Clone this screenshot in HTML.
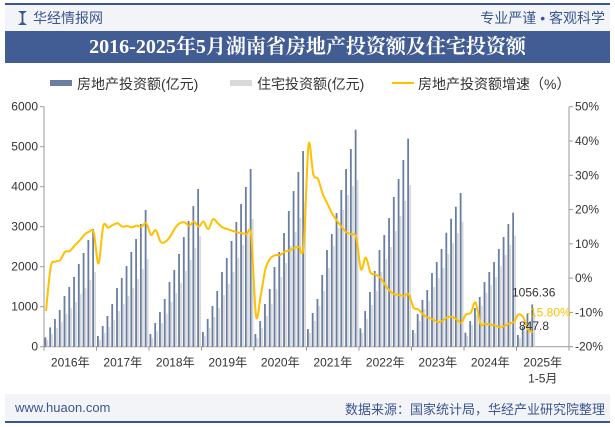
<!DOCTYPE html>
<html><head><meta charset="utf-8">
<style>
body{margin:0;width:615px;height:427px;background:#fff;font-family:"Liberation Sans","Noto Sans CJK SC",sans-serif;overflow:hidden;position:relative}
.abs{position:absolute}
</style></head><body>
<div class="abs" style="left:5px;top:3px;width:605px;height:2px;background:#3a5591"></div>
<div class="abs" style="left:5px;top:5px;width:605px;height:26px;background:#f3f4f8"></div>
<div class="abs" style="left:18px;top:8px;font-size:14px;color:#3a5591;font-family:'Liberation Sans','Noto Sans CJK SC',sans-serif"><span style="display:inline-block;width:9px;height:14px;background:#3a5591;vertical-align:-2px;margin-right:6px;clip-path:polygon(0 0,40% 20%,40% 80%,0 100%,100% 100%,60% 80%,60% 20%,100% 0)"></span>华经情报网</div>
<div class="abs" style="right:10px;top:8px;font-size:14px;color:#3a5591">专业严谨 • 客观科学</div>
<div class="abs" style="left:5px;top:31px;width:605px;height:32px;background:#425d94;color:#fff;font-size:20px;font-weight:bold;text-align:center;line-height:32px;font-family:'Liberation Serif','Noto Serif CJK SC',serif">2016-2025年5月湖南省房地产投资额及住宅投资额</div>
<div class="abs" style="left:5px;top:394px;width:605px;height:27px;background:#f3f4f8"></div>
<div class="abs" style="left:15px;top:400px;font-size:13px;color:#3a5591">www.huaon.com</div>
<div class="abs" style="right:10px;top:399px;font-size:13px;color:#3a5591">数据来源：国家统计局，华经产业研究院整理</div>
<div class="abs" style="left:5px;top:421px;width:605px;height:2px;background:#3a5591"></div>
<svg class="abs" style="left:0;top:0" width="615" height="427" id="c">
<g font-size="14" fill="#333">
<rect x="50" y="80" width="22" height="6" fill="#6a7ea3"/>
<text x="77" y="89">房地产投资额(亿元)</text>
<rect x="230" y="80" width="22" height="6" fill="#d9d9d9"/>
<text x="257" y="89">住宅投资额(亿元)</text>
<rect x="392" y="82" width="22" height="2" fill="#ffc000"/>
<text x="418" y="89">房地产投资额增速（%）</text>
</g>
</svg>
<script>
const years=['2016年','2017年','2018年','2019年','2020年','2021年','2022年','2023年','2024年','2025年'];
const total=[
[233,483,692,917,1267,1492,1742,2067,2342,2667,2942],
[267,517,767,1067,1467,1717,2017,2367,2692,3067,3417],
[317,592,867,1192,1617,1917,2317,2742,3142,3517,3942],
[367,692,1017,1392,1867,2217,2642,3117,3567,3992,4442],
[317,642,1067,1442,1992,2367,2842,3392,3892,4367,4892],
[442,842,1192,1792,2417,2817,3342,3917,4442,4942,5425],
[458,892,1367,1892,2417,2792,3217,3742,4192,4667,5200],
[417,817,1167,1417,1842,2117,2442,2850,3200,3500,3842],
[350,642,967,1242,1617,1867,2117,2442,2742,3067,3350],
[292,500,835,1056.36]];
const resid=[
[167,317,467,617,817,967,1117,1317,1467,1667,1867],
[167,342,492,667,892,1067,1267,1467,1692,1942,2192],
[217,392,592,817,1117,1342,1592,1892,2167,2467,2767],
[267,467,742,967,1292,1567,1867,2217,2542,2842,3192],
[217,467,767,1067,1442,1742,2092,2517,2867,3217,3617],
[342,642,1017,1392,1967,2517,2967,3417,3792,4017,4167],
[342,692,1042,1392,1867,2192,2492,2892,3267,3642,4042],
[342,642,942,1142,1492,1717,1967,2317,2592,2842,3117],
[275,542,792,1025,1342,1542,1742,2017,2292,2542,2775],
[217,400,620,847.8]];
const growth=[
[-9.6,3.3,4.8,5.3,7.7,7.9,9.5,10.9,12.6,13.5,13.3],
[4.3,15.2,14.7,15.5,16.0,15.0,15.2,14.8,15.3,15.0,16.0],
[12.6,14.0,10.6,10.6,12.1,14.5,16.0,16.3,15.3,16.5,15.0],
[16.5,14.3,17.2,16.0,14.8,14.3,13.8,13.4,13.1,12.8,12.3],
[-11.0,-5.0,2.8,5.7,6.7,6.7,7.7,8.1,8.8,9.1,9.4],
[38.8,30.3,28.9,24.5,21.6,18.7,16.7,14.8,13.3,12.8,11.8],
[2.6,6.0,1.6,1.1,0.2,-1.8,-3.7,-4.7,-4.9,-5.2,-4.7],
[-8.6,-9.1,-10.6,-11.5,-12.0,-12.8,-12.5,-11.5,-11.3,-12.0,-13.0],
[-10.6,-10.1,-7.1,-13.3,-13.3,-13.5,-13.8,-14.2,-14.0,-13.3,-12.8],
[-10.6,-11.5,-14.9,-15.8]];
const leftTicks=[0,1000,2000,3000,4000,5000,6000];
const rightTicks=[-20,-10,0,10,20,30,40,50];
const svg=document.getElementById('c');const NS='http://www.w3.org/2000/svg';
const X0=44,X1=569,YT=106.7,YB=346.7,YW=(X1-X0)/10,SW=YW/11;
const yL=v=>YB-(v/6000)*(YB-YT);
const yR=p=>YB-((p+20)/70)*(YB-YT);
const xs=(y,m)=>X0+y*YW+m*SW;
function mk(t,a,p){const e=document.createElementNS(NS,t);for(const k in a)e.setAttribute(k,a[k]);(p||svg).appendChild(e);return e;}
const g=mk('g',{});


mk('line',{x1:X0,y1:YT,x2:X0,y2:YB,stroke:'#999'},g);
mk('line',{x1:X1,y1:YT,x2:X1,y2:YB,stroke:'#999'},g);
mk('line',{x1:X0,y1:YB,x2:X1,y2:YB,stroke:'#999'},g);
leftTicks.forEach(v=>{const y=yL(v);mk('line',{x1:X0-4,y1:y,x2:X0,y2:y,stroke:'#999'},g);
const t=mk('text',{x:X0-6,y:y+4,'text-anchor':'end','font-size':12,fill:'#333'},g);t.textContent=v;

});
rightTicks.forEach(v=>{const y=yR(v);mk('line',{x1:X1,y1:y,x2:X1+4,y2:y,stroke:'#999'},g);
const t=mk('text',{x:X1+6,y:y+4,'font-size':12,fill:'#333'},g);t.textContent=v+'%';

});
years.forEach((yr,i)=>{const x=X0+i*YW;mk('line',{x1:x,y1:YB,x2:x,y2:YB+4,stroke:'#999'},g);
const t=mk('text',{x:x+YW/2,y:YB+20,'text-anchor':'middle','font-size':12,fill:'#333'},g);t.textContent=yr;

});
mk('line',{x1:X1,y1:YB,x2:X1,y2:YB+4,stroke:'#999'},g);
const sub=mk('text',{x:X0+9*YW+YW/2,y:YB+36,'text-anchor':'middle','font-size':12,fill:'#333'},g);sub.textContent='1-5月';


total.forEach((arr,y)=>arr.forEach((v,m)=>{const r=mk('rect',{x:xs(y,m)+0.5,y:yL(v),width:1.8,height:YB-yL(v),fill:'#6a7ea3'},g);

}));
resid.forEach((arr,y)=>arr.forEach((v,m)=>{const r=mk('rect',{x:xs(y,m)+2.5,y:yL(v),width:1.8,height:YB-yL(v),fill:'#d9d9d9'},g);

}));
const pts=[];growth.forEach((arr,y)=>arr.forEach((v,m)=>pts.push([xs(y,m)+2,yR(v)])));
let d='M'+pts[0][0]+','+pts[0][1];
for(let i=1;i<pts.length;i++){const p0=pts[i-2]||pts[i-1],p1=pts[i-1],p2=pts[i],p3=pts[i+1]||p2;
d+=` C${p1[0]+(p2[0]-p0[0])/6},${p1[1]+(p2[1]-p0[1])/6} ${p2[0]-(p3[0]-p1[0])/6},${p2[1]-(p3[1]-p1[1])/6} ${p2[0]},${p2[1]}`;}
const ln=mk('path',{d:d,fill:'none',stroke:'#ffc000','stroke-width':2},g);


const lt=total[9][total[9].length-1],lr=resid[9][resid[9].length-1],lg=growth[9][growth[9].length-1];
const a=mk('text',{x:512,y:yL(lt)-8,'font-size':12,fill:'#333'},g);a.textContent=lt;


const b=mk('text',{x:519,y:yL(lr)+17,'font-size':12,fill:'#333'},g);b.textContent=lr;


const c=mk('text',{x:526,y:yR(lg)-16,'font-size':12,fill:'#ffc000'},g);c.textContent=lg.toFixed(2)+'%';


</script>
</body></html>
